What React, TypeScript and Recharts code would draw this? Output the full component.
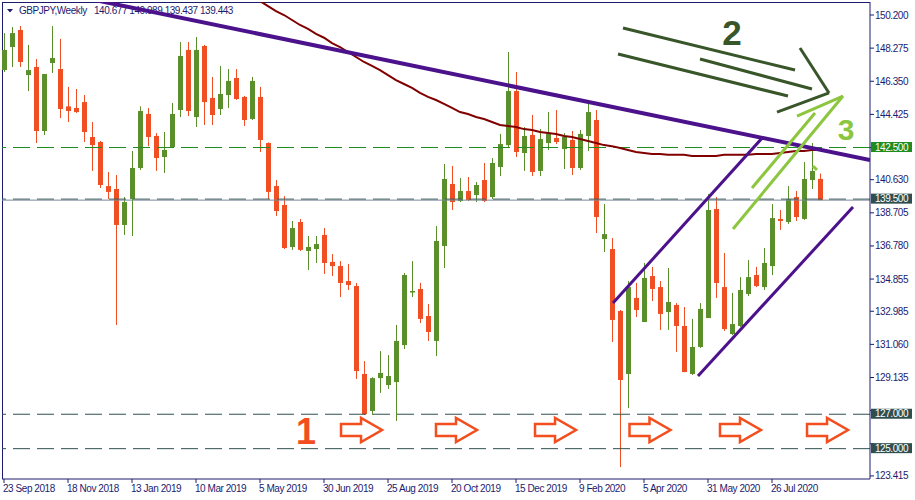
import React from 'react';
import { ComposedChart, Bar, Line, XAxis, YAxis, ReferenceLine, ReferenceDot } from 'recharts';

const NAVY = '#1c1c6e';
const GREEN = '#5a8f2b';
const RED = '#f04e23';
const PURPLE = '#4b128c';
const MAROON = '#800000';
const DARK_GREEN = '#38562a';
const LIGHT_GREEN = '#8cc63f';
const ORANGE = '#f24e1e';
const SLATE = '#2f4f4f';
const LEVEL_GREEN = '#1e8c1e';
const FONT = '"Liberation Sans", Arial, sans-serif';

const dateLabels = ['23 Sep 2018', '18 Nov 2018', '13 Jan 2019', '10 Mar 2019', '5 May 2019', '30 Jun 2019', '25 Aug 2019', '20 Oct 2019', '15 Dec 2019', '9 Feb 2020', '5 Apr 2020', '31 May 2020', '26 Jul 2020'];
const dateTickIndex = [0, 8, 16, 24, 32, 40, 48, 56, 64, 72, 80, 88, 96];
const yTicks = [150.2, 148.275, 146.35, 144.425, 142.5, 140.63, 138.705, 136.78, 134.855, 132.985, 131.06, 129.135, 127.21, 125.285, 123.415];
// tick labels hidden behind the price tags
const hiddenTickLabels = [142.5, 127.21, 125.285];

const opens = [
  147.00, 148.34, 149.33, 146.71, 147.18, 143.46, 147.41, 147.06, 144.89, 144.80,
  145.14, 143.11, 142.82, 140.26, 140.09, 138.00, 139.51, 141.31, 144.45, 143.17,
  141.95, 142.53, 144.68, 148.17, 144.27, 148.40, 145.38, 144.74, 145.55, 146.54,
  145.44, 144.16, 145.44, 142.76, 140.26, 139.16, 136.72, 138.17, 136.49, 136.60,
  137.42, 135.85, 135.61, 134.74, 134.45, 129.34, 127.19, 129.10, 128.70, 128.87,
  131.02, 134.12, 134.28, 132.71, 131.26, 136.78, 140.38, 139.39, 139.97, 139.74,
  140.61, 139.62, 141.37, 142.64, 145.78, 142.18, 143.23, 141.14, 142.76, 143.05,
  142.41, 142.94, 141.31, 143.17, 144.10, 137.18, 136.60, 133.00, 129.34, 133.76,
  132.36, 135.03, 134.39, 132.94, 133.35, 132.13, 129.34, 130.91, 132.59, 138.93,
  134.39, 131.66, 132.13, 133.99, 135.09, 134.39, 135.61, 138.35, 138.17, 139.62,
  138.35, 140.61, 140.677,
];
const highs = [
  149.15, 149.50, 149.56, 148.46, 147.64, 146.77, 149.56, 148.81, 146.02, 145.90,
  145.55, 143.98, 142.88, 141.08, 140.90, 139.62, 142.30, 144.89, 144.80, 143.34,
  143.40, 145.09, 148.63, 148.63, 148.92, 148.46, 146.60, 147.24, 147.06, 147.06,
  145.50, 146.60, 146.02, 142.80, 140.61, 139.68, 138.23, 138.35, 137.36, 137.36,
  137.82, 136.31, 135.90, 135.73, 134.63, 130.09, 129.15, 130.67, 130.44, 132.19,
  135.21, 135.90, 134.63, 133.41, 137.94, 141.54, 141.43, 140.73, 140.79, 140.50,
  141.60, 141.89, 143.29, 148.05, 146.89, 143.69, 144.39, 143.57, 144.56, 144.68,
  143.34, 143.46, 143.52, 145.14, 144.68, 139.22, 137.24, 133.06, 134.74, 134.63,
  135.79, 135.56, 134.74, 135.50, 133.46, 133.23, 132.54, 133.46, 139.80, 139.62,
  136.37, 134.05, 134.97, 135.96, 135.56, 136.66, 139.22, 138.87, 140.26, 139.97,
  141.66, 142.76, 140.989,
];
const lows = [
  146.89, 147.18, 147.18, 145.78, 142.76, 143.23, 146.83, 144.21, 143.98, 144.51,
  142.82, 141.14, 140.15, 139.51, 132.19, 137.42, 137.36, 141.19, 142.58, 141.14,
  141.02, 142.47, 144.27, 144.33, 143.69, 143.81, 143.81, 144.39, 144.80, 145.26,
  143.75, 144.10, 142.24, 139.51, 138.52, 136.60, 136.55, 136.49, 135.38, 135.79,
  135.15, 135.03, 133.81, 134.22, 129.05, 126.96, 126.96, 128.24, 128.47, 126.61,
  130.79, 133.81, 132.30, 131.26, 130.38, 135.50, 138.87, 139.33, 139.39, 139.33,
  139.33, 139.51, 140.84, 142.47, 141.95, 141.14, 140.84, 140.84, 142.36, 142.70,
  141.25, 140.90, 141.19, 142.30, 137.53, 136.43, 131.20, 123.93, 127.36, 132.65,
  132.36, 133.58, 131.90, 131.90, 130.62, 129.45, 129.28, 130.85, 132.59, 133.76,
  131.84, 131.60, 132.07, 133.87, 134.39, 134.22, 135.09, 137.71, 138.06, 138.23,
  138.29, 140.09, 139.437,
];
const closes = [
  148.17, 149.15, 147.47, 147.00, 143.46, 146.77, 147.70, 144.74, 144.62, 144.56,
  143.40, 142.64, 140.32, 139.92, 138.00, 139.33, 141.31, 144.62, 143.11, 141.89,
  142.36, 144.45, 147.82, 144.62, 148.17, 145.14, 144.39, 145.61, 146.37, 145.32,
  144.10, 146.37, 142.94, 139.92, 138.81, 136.66, 137.82, 136.55, 136.72, 136.89,
  135.79, 135.61, 134.63, 134.51, 129.51, 127.01, 129.10, 129.40, 129.22, 131.26,
  135.09, 134.16, 132.54, 131.78, 137.07, 140.67, 139.33, 139.97, 139.45, 140.32,
  139.39, 141.60, 142.70, 145.78, 142.24, 143.17, 141.08, 142.99, 143.29, 142.82,
  143.11, 141.31, 143.29, 144.56, 138.46, 137.47, 132.48, 128.99, 134.39, 133.06,
  134.92, 134.28, 132.83, 133.52, 132.13, 129.45, 130.91, 133.12, 138.87, 134.63,
  131.95, 132.24, 134.22, 134.97, 134.45, 135.79, 138.40, 138.23, 139.51, 138.46,
  140.67, 141.14, 139.443,
];

const MA_START = 31;
const maValues = [
  151.30, 151.01, 150.72, 150.43, 150.20, 149.91, 149.62, 149.39, 149.10, 148.88,
  148.57, 148.34, 148.05, 147.76, 147.47, 147.24, 147.00, 146.71, 146.42, 146.19,
  145.96, 145.67, 145.44, 145.26, 145.03, 144.80, 144.56, 144.45, 144.27, 144.16,
  143.98, 143.81, 143.75, 143.69, 143.57, 143.52, 143.40, 143.34, 143.29, 143.17,
  143.11, 142.99, 142.88, 142.76, 142.64, 142.58, 142.47, 142.36, 142.24, 142.18,
  142.12, 142.12, 142.08, 142.08, 142.08, 142.01, 142.01, 142.01, 142.01, 142.08,
  142.08, 142.08, 142.08, 142.12, 142.12, 142.12, 142.18, 142.24, 142.30, 142.30,
  142.36, 142.36,
];

const X_DOMAIN: [number, number] = [-0.25, 108.25];
const Y_DOMAIN: [number, number] = [123.237, 150.956];

// annotation geometry in (bar index, price)
const purpleLines = [
  { a: [0, 152.16], b: [108.25, 141.77], w: 4 },
  { a: [76.125, 133.46], b: [94.875, 143.11], w: 3 },
  { a: [86.75, 129.22], b: [106.125, 139.04], w: 3 },
];
const darkGreenLines = [
  { a: [77.375, 149.445], b: [98.875, 147.0] },
  { a: [87, 147.64], b: [101, 145.9] },
  { a: [76.75, 147.93], b: [98, 145.49] },
  { a: [99.5, 148.28], b: [103.125, 145.67] },
  { a: [103.125, 145.67], b: [96.625, 144.56] },
];
const lightGreenLines = [
  { a: [93.5, 140.15], b: [101.375, 144.51] },
  { a: [91.125, 137.765], b: [104.875, 145.49] },
  { a: [99.125, 144.33], b: [104.875, 145.49] },
  { a: [101.125, 141.42], b: [101.625, 141.19] },
];
const arrowIndex = [44.69, 56.56, 68.94, 80.75, 92.06, 102.94];
const arrowPrice = 126.085;
const bigNumbers = [
  { text: '1', x: 37.75, y: 126.03, color: ORANGE, size: 36 },
  { text: '2', x: 91, y: 149.21, color: DARK_GREEN, size: 35 },
  { text: '3', x: 105.25, y: 143.57, color: LIGHT_GREEN, size: 30 },
];
const levels = [
  { y: 142.5, color: LEVEL_GREEN },
  { y: 139.5, color: SLATE },
  { y: 127.0, color: SLATE },
  { y: 125.0, color: SLATE },
];
const bidPrice = 139.443;

const data = opens.map((o, i) => ({
  i,
  open: o,
  high: highs[i],
  low: lows[i],
  close: closes[i],
  range: [lows[i], highs[i]],
  ma: i >= MA_START ? maValues[i - MA_START] : null,
}));

const Candle = (props: any) => {
  const { x, y, width, height, payload } = props;
  if (x == null || y == null) return null;
  const { open, close, high, low } = payload;
  const color = close >= open ? GREEN : RED;
  const top0 = Math.min(y, y + height);
  const h = Math.abs(height);
  const ratio = high - low > 0 ? h / (high - low) : 0;
  const yOf = (v: number) => top0 + (high - v) * ratio;
  const cx = Math.floor(x + width / 2 + 0.5);
  const bTop = yOf(Math.max(open, close));
  const bBot = yOf(Math.min(open, close));
  return (
    <g>
      <rect x={cx} y={top0} width={1} height={Math.max(1, h)} fill={color} />
      <rect x={cx - 2} y={bTop} width={5} height={Math.max(1.5, bBot - bTop)} fill={color} />
    </g>
  );
};

const XTick = (props: any) => {
  const { x, y, payload } = props;
  const k = dateTickIndex.indexOf(payload.value);
  return (
    <text x={x - 1} y={y} dy="0.71em" textAnchor="start" fontSize={10} fontFamily={FONT} letterSpacing={-0.45} fill={NAVY}>
      {dateLabels[k]}
    </text>
  );
};

const YTick = (props: any) => {
  const { x, y, payload } = props;
  const v = Number(payload.value);
  if (hiddenTickLabels.some((h) => Math.abs(h - v) < 1e-6)) return <g />;
  return (
    <text x={x} y={y} dy="0.355em" textAnchor="start" fontSize={10} fontFamily={FONT} letterSpacing={-0.45} fill={NAVY}>
      {v.toFixed(3)}
    </text>
  );
};

const PriceTag = (bg: string, value: number) => (props: any) => {
  const { cx, cy } = props;
  return (
    <g>
      <rect x={cx + 1} y={cy - 5.5} width={41} height={10} fill={bg} />
      <text x={cx + 5} y={cy - 0.5} dy="0.355em" fontSize={10} fontFamily={FONT} letterSpacing={-0.45} fill="#ffffff">
        {value.toFixed(3)}
      </text>
    </g>
  );
};

const ArrowShape = (props: any) => {
  const { cx, cy } = props;
  const pts = [
    [-20.5, -6], [-0.5, -6], [-0.5, -12], [20.5, 0], [-0.5, 12], [-0.5, 6], [-20.5, 6],
  ].map(([dx, dy]) => `${cx + dx},${cy + dy}`).join(' ');
  return <polygon points={pts} fill="none" stroke={ORANGE} strokeWidth={2.5} strokeLinejoin="miter" />;
};

const NumberShape = (text: string, color: string, size: number) => (props: any) => {
  const { cx, cy } = props;
  return (
    <text x={cx} y={cy} dy="0.36em" textAnchor="middle" fontSize={size} fontWeight="bold" fontFamily={FONT} fill={color}>
      {text}
    </text>
  );
};

const seg = (l: { a: number[]; b: number[] }) => [
  { x: l.a[0], y: l.a[1] },
  { x: l.b[0], y: l.b[1] },
];

export default function App() {
  return (
    <div style={{ position: 'absolute', left: 0, top: 0, width: 915, height: 500, background: '#ffffff', overflow: 'hidden' }}>
      <div
        style={{
          position: 'absolute', left: 2, top: 2, width: 868, height: 477,
          borderLeft: `1px solid ${NAVY}`, borderTop: `1px solid ${NAVY}`, boxSizing: 'border-box',
        }}
      />
      <svg style={{ position: 'absolute', left: 0, top: 0 }} width={320} height={20}>
        <polygon points="7,9 13,9 10,12.5" fill={NAVY} />
        <text x={19} y={14} fontSize={10} fontFamily={FONT} letterSpacing={-0.45} fill={NAVY}>GBPJPY,Weekly</text>
        <text x={94} y={14} fontSize={10} fontFamily={FONT} letterSpacing={-0.45} fill={NAVY}>
          {`${opens[102].toFixed(3)} ${highs[102].toFixed(3)} ${lows[102].toFixed(3)} ${closes[102].toFixed(3)}`}
        </text>
      </svg>
      <div style={{ position: 'absolute', left: 0, top: 0 }}>
        <ComposedChart width={915} height={500} data={data} margin={{ top: 2, right: 0, bottom: 0, left: 2 }}>
          <XAxis
            dataKey="i"
            type="number"
            domain={X_DOMAIN}
            allowDataOverflow
            ticks={dateTickIndex}
            interval={0}
            height={21}
            tickSize={4}
            tickMargin={2}
            tick={<XTick />}
            axisLine={{ stroke: NAVY }}
            tickLine={{ stroke: NAVY }}
          />
          <YAxis
            orientation="right"
            type="number"
            domain={Y_DOMAIN}
            allowDataOverflow
            ticks={yTicks}
            interval={0}
            width={45}
            tickSize={4}
            tickMargin={1}
            tick={<YTick />}
            axisLine={{ stroke: NAVY }}
            tickLine={{ stroke: NAVY }}
          />
          {levels.map((l) => (
            <ReferenceLine key={`lv${l.y}`} y={l.y} stroke={l.color} strokeWidth={1} strokeDasharray="17 7" ifOverflow="hidden" />
          ))}
          <ReferenceLine y={bidPrice} stroke="#778899" strokeWidth={1} ifOverflow="hidden" />
          <Bar dataKey="range" barSize={5} isAnimationActive={false} shape={(p: any) => <Candle {...p} />} />
          <Line dataKey="ma" stroke={MAROON} strokeWidth={2} dot={false} activeDot={false} isAnimationActive={false} connectNulls={false} />
          {purpleLines.map((l, k) => (
            <ReferenceLine key={`pl${k}`} segment={seg(l)} stroke={PURPLE} strokeWidth={l.w} ifOverflow="hidden" />
          ))}
          {darkGreenLines.map((l, k) => (
            <ReferenceLine key={`dg${k}`} segment={seg(l)} stroke={DARK_GREEN} strokeWidth={3} ifOverflow="hidden" />
          ))}
          {lightGreenLines.map((l, k) => (
            <ReferenceLine key={`lg${k}`} segment={seg(l)} stroke={LIGHT_GREEN} strokeWidth={3} ifOverflow="hidden" />
          ))}
          {arrowIndex.map((ix, k) => (
            <ReferenceDot key={`ar${k}`} x={ix} y={arrowPrice} ifOverflow="visible" shape={ArrowShape} />
          ))}
          {bigNumbers.map((n) => (
            <ReferenceDot key={`n${n.text}`} x={n.x} y={n.y} ifOverflow="visible" shape={NumberShape(n.text, n.color, n.size)} />
          ))}
          {levels.map((l) => (
            <ReferenceDot key={`tag${l.y}`} x={X_DOMAIN[1]} y={l.y} ifOverflow="visible" shape={PriceTag(l.color, l.y)} />
          ))}
        </ComposedChart>
      </div>
    </div>
  );
}
